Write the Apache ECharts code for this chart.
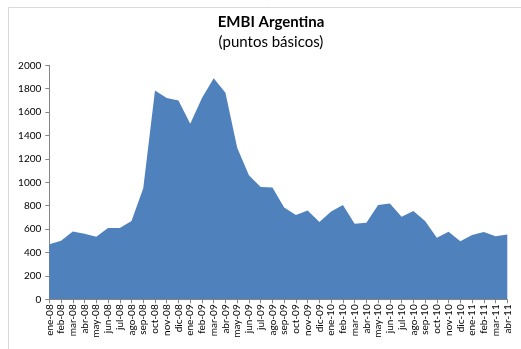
<!DOCTYPE html>
<html>
<head>
<meta charset="utf-8">
<script src="https://cdn.jsdelivr.net/npm/echarts@6/dist/echarts.min.js"></script>
<style>html,body{margin:0;padding:0;background:#fff;}#c{width:521px;height:349px;}</style>
</head>
<body>
<div id="c"></div>
<script>
const categories = ["ene-08","feb-08","mar-08","abr-08","may-08","jun-08","jul-08","ago-08","sep-08","oct-08","nov-08","dic-08",
  "ene-09","feb-09","mar-09","abr-09","may-09","jun-09","jul-09","ago-09","sep-09","oct-09","nov-09","dic-09",
  "ene-10","feb-10","mar-10","abr-10","may-10","jun-10","jul-10","ago-10","sep-10","oct-10","nov-10","dic-10",
  "ene-11","feb-11","mar-11","abr-11"];
const embi = [470,500,580,560,535,610,610,670,950,1785,1720,1700,
  1500,1720,1890,1765,1295,1060,960,955,785,720,760,660,
  750,805,645,655,805,818,705,755,670,527,578,496,
  550,575,538,553];
const yTicks = {min:0, max:2000, interval:200};
const titleText = "EMBI Argentina";
const subtitleText = "(puntos básicos)";

const chart = echarts.init(document.getElementById('c'), null, {renderer:'canvas'});
chart.setOption({
  animation:false,
  backgroundColor:'#fff',
  title:{
    text:titleText, subtext:subtitleText, left:266, textAlign:'center', top:10, itemGap:5,
    textStyle:{fontFamily:'Lato', fontWeight:'bold', fontSize:15, color:'#000'},
    subtextStyle:{fontFamily:'Lato', fontSize:15, color:'#000'}
  },
  graphic:[
    {type:'line', shape:{x1:8.5,y1:7.5,x2:521,y2:7.5}, style:{stroke:'#d9d9d9', lineWidth:1}},
    {type:'line', shape:{x1:8.5,y1:7.5,x2:8.5,y2:349}, style:{stroke:'#d9d9d9', lineWidth:1}}
  ],
  grid:{left:49.3, right:13.7, top:65.3, bottom:49.7, containLabel:false},
  xAxis:{
    type:'category', data:categories, boundaryGap:false,
    axisLine:{lineStyle:{color:'#868686'}},
    axisTick:{show:true, alignWithLabel:true, length:4, lineStyle:{color:'#868686'}},
    axisLabel:{rotate:90, interval:0, fontFamily:'Lato', fontSize:10, color:'#000', margin:5}
  },
  yAxis:{
    type:'value', min:yTicks.min, max:yTicks.max, interval:yTicks.interval,
    axisLine:{show:true, lineStyle:{color:'#868686'}},
    axisTick:{show:true, length:4, lineStyle:{color:'#868686'}},
    splitLine:{show:false},
    axisLabel:{fontFamily:'Lato', fontSize:10, color:'#000', margin:8, formatter:function(v){return String(v);}}
  },
  series:[{
    type:'line', data:embi, symbol:'none',
    lineStyle:{width:0, color:'#4F81BD'},
    areaStyle:{color:'#4F81BD', opacity:1},
    z:1
  }]
});
</script>
</body>
</html>
